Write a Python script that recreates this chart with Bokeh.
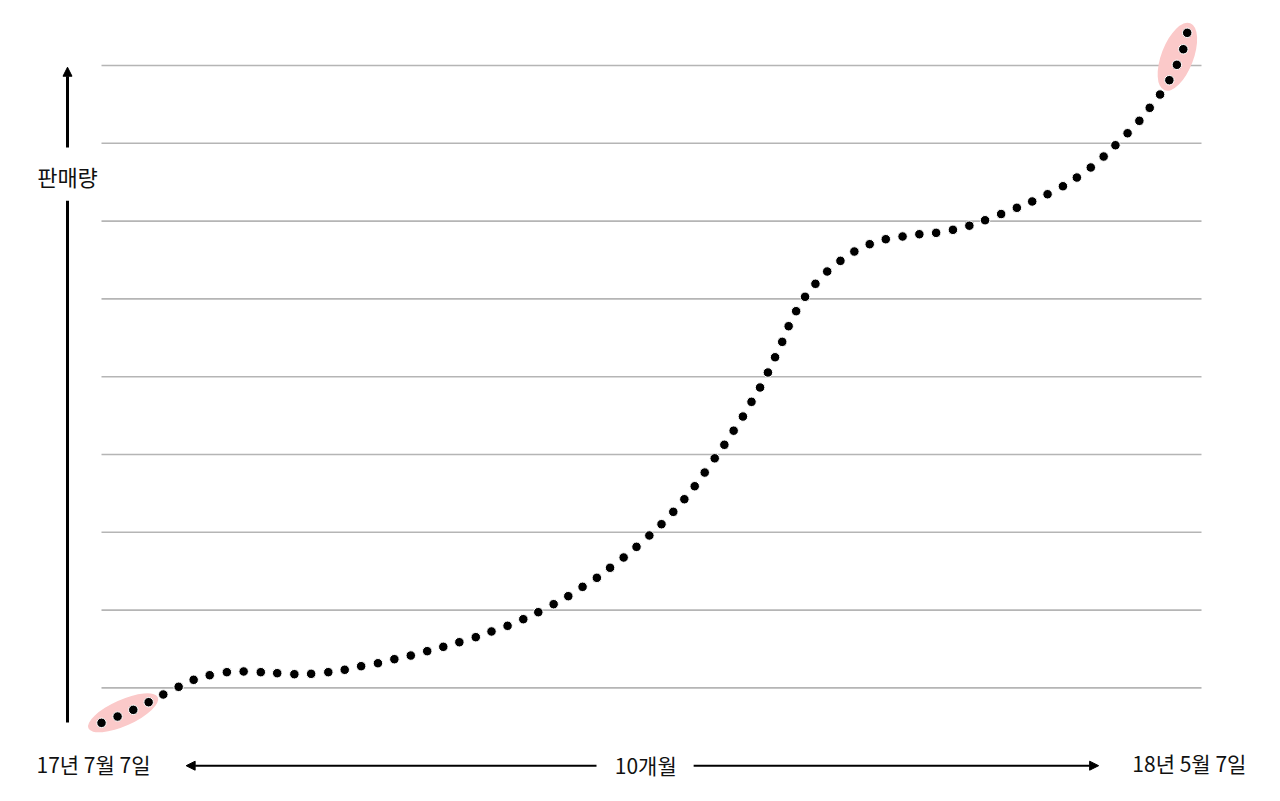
from bokeh.plotting import figure
from bokeh.models import Range1d, Arrow, NormalHead
from bokeh.embed import file_html
from bokeh.resources import INLINE
from bokeh.core.properties import value

# ---- data (days since 2017-07-07, sales in arbitrary units) ----
days = [0.0, 4.5, 8.9, 13.2, 17.3, 21.6, 25.8, 30.3, 35.1, 39.8,
        44.6, 49.2, 54.0, 58.7, 63.5, 68.1, 72.7, 77.4, 82.0, 86.6,
        91.2, 95.7, 100.2, 104.8, 109.2, 113.7, 118.1, 122.3, 126.6, 130.7,
        134.7, 138.7, 142.4, 146.2, 149.8, 153.4, 156.8, 160.1, 163.2, 166.1,
        168.9, 171.7, 174.4, 177.0, 179.6, 182.0, 184.4, 186.6, 188.6, 190.6,
        192.4, 194.5, 197.0, 199.9, 203.2, 206.9, 210.8, 215.1, 219.6, 224.3,
        229.0, 233.7, 238.4, 243.0, 247.4, 251.9, 256.3, 260.6, 264.9, 269.2,
        273.1, 277.0, 280.6, 283.9, 287.3, 290.6, 293.5, 296.4, 299.0, 301.1,
        302.9, 304.0]
sales = [55.1, 63.2, 71.8, 81.6, 91.5, 101.4, 110.4, 116.3, 120.2, 121.1,
         120.2, 118.9, 117.6, 118.1, 120.2, 123.3, 127.9, 131.7, 136.9, 141.6,
         147.2, 152.8, 158.7, 165.2, 172.5, 179.8, 188.3, 197.3, 207.6, 217.9,
         229.9, 241.5, 254.4, 267.6, 281.3, 295.9, 310.4, 326.3, 342.5, 359.2,
         376.8, 395.1, 412.5, 430.6, 448.8, 467.7, 486.1, 505.4, 525.0, 544.8,
         564.9, 584.2, 602.7, 619.4, 635.2, 648.9, 660.9, 670.3, 676.7, 680.2,
         683.1, 684.9, 688.8, 694.1, 701.1, 709.1, 717.1, 725.2, 734.5, 744.8,
         756.0, 768.9, 783.0, 797.5, 812.9, 828.9, 845.6, 862.7, 881.1, 900.9,
         920.9, 942.0]
grid_levels = [100, 200, 300, 400, 500, 600, 700, 800, 900]
y_label = "판매량"
start_label = "17년 7월 7일"
end_label = "18년 5월 7일"
span_label = "10개월"
n_highlight = 4

FONT = value("Noto Sans CJK KR")

p = figure(width=1264, height=785,
           x_range=Range1d(-28.28, 325.64), y_range=Range1d(-25.45, 983.55),
           output_backend="svg", toolbar_location=None, min_border=0,
           x_axis_location=None, y_axis_location=None)
p.grid.visible = False
p.outline_line_color = None
p.background_fill_color = "white"
p.border_fill_color = "white"

# horizontal guide lines
p.segment(x0=[0] * len(grid_levels), y0=grid_levels,
          x1=[308] * len(grid_levels), y1=grid_levels,
          line_color="#b5b5b5", line_width=1.6)

# highlight ellipses around first and last points
def mean(v):
    return sum(v) / len(v)

cx = [mean(days[:n_highlight]) - 0.6, mean(days[-n_highlight:]) - 0.5]
cy = [mean(sales[:n_highlight]), mean(sales[-n_highlight:])]
p.ellipse(x=cx, y=cy, width=[76, 72], height=[26, 32], angle=[0.42, 1.204],
          width_units="screen", height_units="screen",
          fill_color="#fbc9c9", line_color=None)

# dots
p.scatter(days, sales, size=9.5, fill_color="black", line_color="white", line_width=1)

# vertical axis arrow
ax_x = -9.52
p.segment(x0=[ax_x], y0=[55.5], x1=[ax_x], y1=[726.3], line_color="black", line_width=3)
p.add_layout(Arrow(end=NormalHead(size=9, fill_color="black", line_color="black"),
                   x_start=ax_x, y_start=794.6, x_end=ax_x, y_end=897.8,
                   line_color="black", line_width=3))
p.text(x=[ax_x], y=[758.5], text=[y_label], text_font=FONT, text_font_size="22px",
       text_align="center", text_baseline="middle", text_color="#111111")

# time arrows
p.add_layout(Arrow(end=NormalHead(size=9, fill_color="black", line_color="black"),
                   x_start=138.6, y_start=0, x_end=23.7, y_end=0,
                   line_color="black", line_width=2))
p.add_layout(Arrow(end=NormalHead(size=9, fill_color="black", line_color="black"),
                   x_start=165.8, y_start=0, x_end=279.2, y_end=0,
                   line_color="black", line_width=2))

p.text(x=[-2.24, 152.4, 304.6], y=[2.8, 0.3, 3.2],
       text=[start_label, span_label, end_label],
       text_font=FONT, text_font_size="21px",
       text_align="center", text_baseline="middle", text_color="#111111")

open("out.html", "w").write(file_html(p, INLINE))
